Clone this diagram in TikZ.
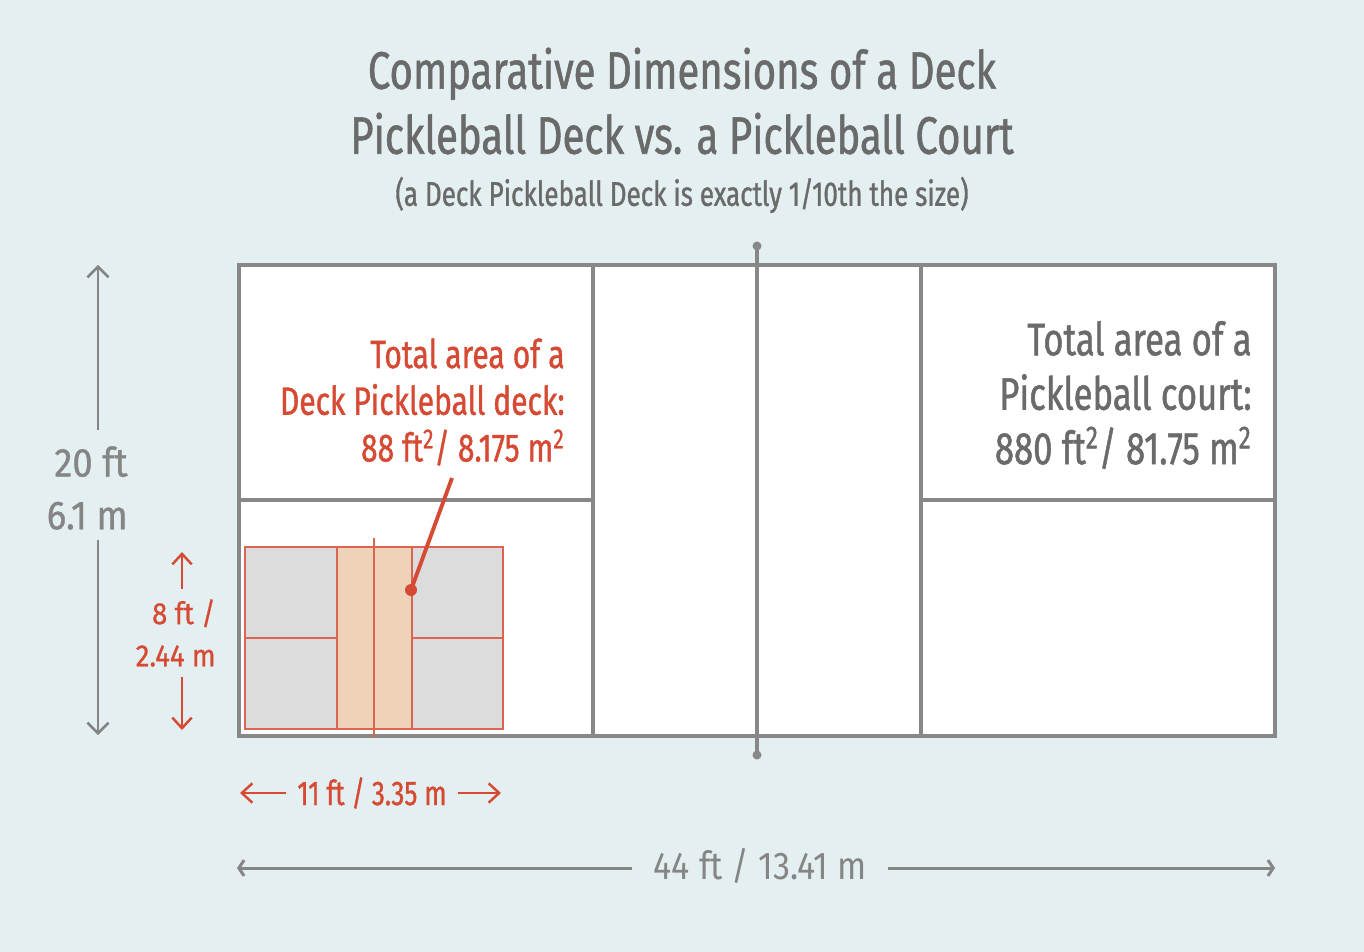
\documentclass[tikz,border=0pt]{standalone}
\usepackage{fontspec}
\setmainfont[FakeStretch=0.76, FakeBold=1]{Fira Sans}
\newfontfamily\widefont[FakeStretch=0.9, FakeBold=0.8]{Fira Sans}
\newfontfamily\plainfont[FakeStretch=0.88]{Fira Sans}
\usepackage{xcolor}
\usepackage{tikz}
\usetikzlibrary{arrows.meta, positioning, calc}
\definecolor{bgblue}{HTML}{E3EFF1}
\definecolor{courtgray}{HTML}{888888}
\definecolor{titlegray}{HTML}{6A6A6A}
\definecolor{dimgray}{HTML}{858585}
\definecolor{deckred}{HTML}{D64A34}
\definecolor{deckfill}{HTML}{DCDCDC}
\definecolor{kitchenfill}{HTML}{EFD3B9}
\tikzstyle{courtline} = [draw=courtgray, line width=2.3pt]
\tikzstyle{deckline} = [draw=deckred!85, line width=0.7pt]
\tikzstyle{pointer} = [draw=deckred, line width=2.2pt]
\tikzstyle{dimarrow} = [draw=dimgray, line width=1.5pt, -{Straight Barb[length=6pt, width=12pt]}]
\tikzstyle{deckarrow} = [draw=deckred, line width=1.4pt, -{Straight Barb[length=6pt, width=11pt]}]
\tikzstyle{longarrow} = [draw=dimgray, line width=1.7pt, -{Straight Barb[length=3pt, width=9pt]}]
\tikzstyle{titletext} = [text=titlegray, align=center, font=\fontsize{30}{37}\selectfont]
\tikzstyle{redtext} = [text=deckred, align=right, anchor=east, inner sep=0pt, font=\fontsize{22.5}{26.6}\selectfont]
\tikzstyle{graytext} = [text=titlegray, align=right, anchor=east, inner sep=0pt, font=\fontsize{26}{31}\selectfont]

\begin{document}
\begin{tikzpicture}[x=0.02cm, y=-0.02cm]
    % Background
    \fill[bgblue] (0,0) rectangle (1364,952);
    \useasboundingbox (0,0) rectangle (1364,952);

    % Title
    \node[titletext] (title) at (682,101) {Comparative Dimensions of a Deck\\Pickleball Deck vs. a Pickleball Court};
    \node[text=titlegray, font=\fontsize{19.5}{22}\selectfont] (subtitle) at (682,195) {(a Deck Pickleball Deck is exactly 1/10th the size)};

    % Pickleball court
    \fill[white] (239,265) rectangle (1275,736);
    \draw[courtline] (239,265) rectangle (1275,736);
    \draw[courtline] (593,265) -- (593,736);
    \draw[courtline] (921,265) -- (921,736);
    \draw[courtline] (239,500) -- (593,500);
    \draw[courtline] (921,500) -- (1275,500);
    \coordinate (nettop) at (757,246);
    \coordinate (netbottom) at (757,755);
    \draw[courtline] (nettop) -- (netbottom);
    \fill[courtgray] (nettop) circle (4.5);
    \fill[courtgray] (netbottom) circle (4.5);

    % Deck
    \fill[deckfill] (245,547) rectangle (503,729);
    \fill[kitchenfill] (337,547) rectangle (412,729);
    \draw[deckline] (245,547) rectangle (503,729);
    \draw[deckline] (337,547) -- (337,729);
    \draw[deckline] (412,547) -- (412,729);
    \draw[deckline] (245,638) -- (337,638);
    \draw[deckline] (412,638) -- (503,638);
    \draw[deckline] (374,538) -- (374,738);

    % Area labels
    \node[redtext] (decklabel) at (565,402) {Total area of a\\Deck Pickleball deck:\\88 ft\textsuperscript{2}/ 8.175 m\textsuperscript{2}};
    \node[graytext] (courtlabel) at (1252,395) {Total area of a\\Pickleball court:\\880 ft\textsuperscript{2}/ 81.75 m\textsuperscript{2}};
    \coordinate (pointertail) at (452,478);
    \coordinate (pointerdot) at (411,590);
    \draw[pointer] (pointertail) -- (pointerdot);
    \fill[deckred] (pointerdot) circle (6);

    % Court height
    \node[text=dimgray, align=right, anchor=east, inner sep=0pt, font=\widefont\fontsize{23}{30}\selectfont] (heightlabel) at (128,488) {20 ft\\6.1 m};
    \coordinate (courttop) at (98,265);
    \coordinate (courtbottom) at (98,735);
    \draw[dimarrow] ($(heightlabel.north -| courttop)+(0,-16)$) -- (courttop);
    \draw[dimarrow] ($(heightlabel.south -| courtbottom)+(0,10)$) -- (courtbottom);

    % Deck height
    \node[text=deckred, align=right, anchor=east, inner sep=0pt, font=\widefont\fontsize{17.5}{24}\selectfont] (decklength) at (216,633) {8 ft /\\2.44 m};
    \coordinate (decktop) at (182,552);
    \coordinate (deckbottom) at (182,730);
    \draw[deckarrow] ($(decklength.north -| decktop)+(0,-10)$) -- (decktop);
    \draw[deckarrow] ($(decklength.south -| deckbottom)+(0,10)$) -- (deckbottom);

    % Deck width
    \node[text=deckred, inner sep=6pt, font=\fontsize{19.5}{22}\selectfont] (deckwidth) at (372,793) {11 ft / 3.35 m};
    \coordinate (deckleft) at (240,793);
    \coordinate (deckright) at (501,793);
    \draw[deckarrow] (deckwidth.west) -- (deckleft);
    \draw[deckarrow] (deckwidth.east) -- (deckright);

    % Court width
    \node[text=dimgray, inner sep=12pt, font=\plainfont\fontsize{22}{26}\selectfont] (courtwidth) at (760,866) {44 ft / 13.41 m};
    \coordinate (courtleft) at (237,868);
    \coordinate (courtright) at (1275,868);
    \draw[longarrow] (courtwidth.west |- courtleft) -- (courtleft);
    \draw[longarrow] (courtwidth.east |- courtright) -- (courtright);
\end{tikzpicture}
\end{document}
